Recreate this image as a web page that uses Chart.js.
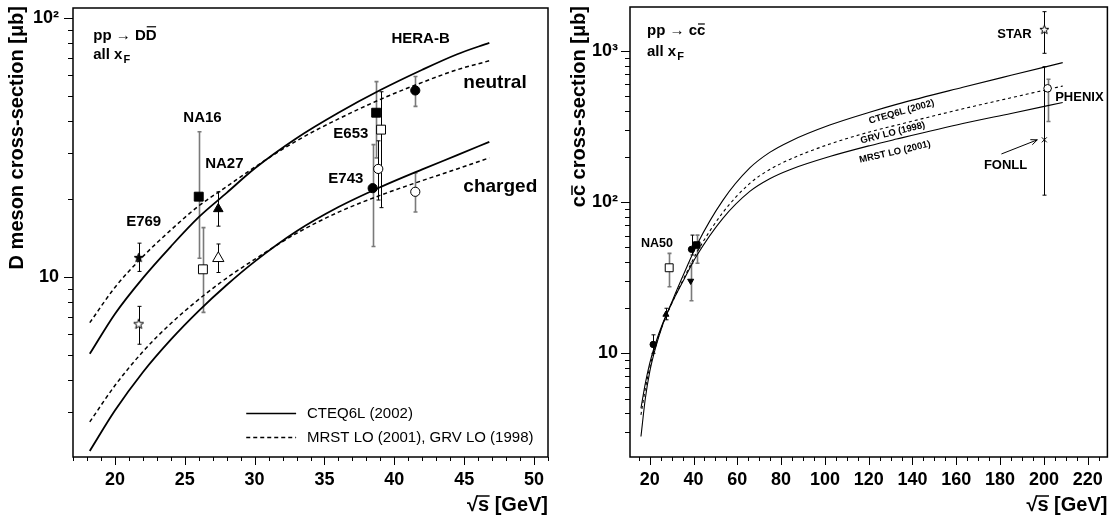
<!DOCTYPE html>
<html>
<head>
<meta charset="utf-8">
<script src="https://cdn.jsdelivr.net/npm/chart.js@4.4.1/dist/chart.umd.min.js"></script>
<style>
  html, body { margin: 0; padding: 0; background: #fff; }
  #wrap { position: relative; width: 1114px; height: 516px; }
  canvas { position: absolute; top: 0; }
  #left { left: 0; }
  #right { left: 557px; }
</style>
</head>
<body>
<div id="wrap">
  <canvas id="left" width="557" height="516"></canvas>
  <canvas id="right" width="557" height="516"></canvas>
</div>
<script>
// ---------- left panel: pp -> D Dbar, all xF ----------
const ddTickX = [20, 25, 30, 35, 40, 45, 50];
const ddTickY = [10, 100];

// theory curves
const ddCurveX       = [18.2, 20, 22, 24, 26, 28, 30, 33, 36, 39, 42, 44.5, 46.8];
const ddNeutralCteq  = [5.05, 7.2, 9.9, 13.1, 17.0, 21.1, 26.2, 34.3, 43.0, 52.6, 63.0, 72.3, 80.0];
const ddNeutralMrst  = [6.66, 9.11, 11.98, 15.16, 18.8, 22.3, 26.5, 33.5, 40.7, 48.4, 56.3, 63.0, 68.2];
const ddChargedCteq  = [2.13, 3.05, 4.29, 5.73, 7.40, 9.31, 11.46, 15.0, 18.6, 22.2, 26.0, 29.5, 33.2];
const ddChargedMrst  = [2.76, 3.81, 5.15, 6.61, 8.19, 9.90, 11.69, 14.73, 17.78, 20.65, 23.53, 26.1, 28.8];

// measurements: E769 (D0, D+), NA16, NA27, E653, E743, HERA-B
const ddSqrtS  = [21.7, 21.7, 26.0, 26.3, 27.4, 27.4, 38.7, 39.05, 38.45, 38.85, 41.5, 41.5];
const ddSigma  = [11.9, 6.6, 20.4, 10.7, 18.3, 11.8, 43.0, 37.0, 22.0, 26.1, 52.4, 21.3];
const ddErrLow = [10.5, 5.5, 11.8, 7.3, 15.7, 10.4, 28.8, 18.5, 13.1, 19.8, 45.5, 17.8];
const ddErrHigh= [13.5, 7.7, 36.3, 15.5, 21.3, 13.4, 56.7, 51.8, 32.4, 33.5, 59.3, 25.2];

// ---------- right panel: pp -> c cbar ----------
const ccTickX = [20, 40, 60, 80, 100, 120, 140, 160, 180, 200, 220];
const ccTickY = [10, 100, 1000];

const ccCurveX = [16, 18, 20, 22.4, 26, 30.5, 36, 41.5, 53.4, 65.7, 74.8, 84, 102.2, 120.4, 132.7, 163, 185, 208.6];
const ccCteq   = [2.8, 5.0, 7.5, 10.5, 15.5, 22.5, 34.5, 52, 102.6, 168, 213, 252, 323, 393, 443, 575, 690, 837];
const ccGrv    = [3.9, 5.8, 8.0, 10.8, 15.5, 22.0, 32.1, 46.3, 85.2, 132.7, 164, 191.5, 242, 291, 323, 414, 490, 586];
const ccMrst   = [4.31, 6.3, 8.55, 11.3, 15.8, 22.05, 31.4, 44.2, 78, 117.6, 142.7, 163.8, 200, 236, 261, 331, 386, 456];

// measurements: fixed target points, NA50, STAR, PHENIX, FONLL
const ccSqrtS  = [21.6, 27.4, 28.9, 38.7, 39.1, 41.5, 200.2, 201.7, 200.2];
const ccSigma  = [11.4, 18.0, 36.7, 30.0, 48.6, 51.9, 1392, 566, 258];
const ccErrLow = [9.96, 16.6, 27.5, 22.2, 44.6, 39.3, 965, 341, 111];
const ccErrHigh= [13.2, 19.8, 45.7, 39.3, 60.4, 60.4, 1821, 650, 787];

const FONT = '"Liberation Sans", Arial, Helvetica, sans-serif';
const GRAY = '#7a7a7a';

function starImg(size, filled) {
  const c = document.createElement('canvas');
  c.width = c.height = size;
  const g = c.getContext('2d');
  const R = size / 2 - 0.8, r = R * 0.42, cx = size / 2, cy = size / 2 + 0.5;
  g.beginPath();
  for (let k = 0; k < 10; k++) {
    const a = -Math.PI / 2 + k * Math.PI / 5;
    const rr = k % 2 ? r : R;
    g.lineTo(cx + rr * Math.cos(a), cy + rr * Math.sin(a));
  }
  g.closePath();
  g.fillStyle = filled ? '#000' : '#fff';
  g.fill();
  g.strokeStyle = '#000';
  g.lineWidth = 1;
  g.stroke();
  return c;
}

const pts = (xs, ys) => xs.map((x, i) => ({ x: x, y: ys[i] }));

function curve(xs, ys, width, dash) {
  return {
    data: pts(xs, ys), showLine: true, pointRadius: 0, borderColor: '#000',
    borderWidth: width, borderDash: dash || [], cubicInterpolationMode: 'monotone', fill: false
  };
}

function drawLabel(ctx, t, xs, ys) {
  const px = xs.getPixelForValue(t.x), py = ys.getPixelForValue(t.y);
  ctx.save();
  ctx.translate(px, py);
  if (t.rot) ctx.rotate(t.rot * Math.PI / 180);
  ctx.font = (t.normal ? '' : 'bold ') + t.size + 'px ' + FONT;
  ctx.fillStyle = '#000';
  ctx.textAlign = t.align || 'center';
  ctx.textBaseline = t.base || 'middle';
  ctx.fillText(t.text, 0, 0);
  const w = ctx.measureText(t.text).width;
  let x0 = t.align === 'left' ? 0 : (t.align === 'right' ? -w : -w / 2);
  if (t.over) {
    const lw = ctx.measureText(t.text.slice(-1)).width;
    const capTop = t.overTop || -t.size * 0.78;
    ctx.strokeStyle = '#000';
    ctx.lineWidth = 1.2;
    ctx.beginPath();
    ctx.moveTo(x0 + w - lw + 1, capTop);
    ctx.lineTo(x0 + w - 0.5, capTop);
    ctx.stroke();
  }
  if (t.sub) {
    ctx.font = 'bold ' + Math.round(t.size * 0.7) + 'px ' + FONT;
    ctx.textAlign = 'left';
    ctx.fillText(t.sub, x0 + w + 1, 4);
  }
  ctx.restore();
}

const decor = {
  id: 'decor',
  beforeDatasetsDraw(chart, args, o) {
    const ctx = chart.ctx, xs = chart.scales.x, ys = chart.scales.y;
    chart.data.datasets.forEach(ds => {
      if (!ds.errLow) return;
      ds.data.forEach((p, i) => {
        const px = Math.round(xs.getPixelForValue(p.x)) + 0.5;
        const y1 = ys.getPixelForValue(ds.errLow[i]);
        const y2 = ys.getPixelForValue(ds.errHigh[i]);
        ctx.save();
        ctx.strokeStyle = ds.errColor[i];
        ctx.lineWidth = ds.errColor[i] === GRAY ? 1.6 : 1;
        ctx.beginPath();
        ctx.moveTo(px, y1); ctx.lineTo(px, y2);
        ctx.moveTo(px - 2, y1); ctx.lineTo(px + 2, y1);
        ctx.moveTo(px - 2, y2); ctx.lineTo(px + 2, y2);
        ctx.stroke();
        ctx.restore();
      });
    });
  },
  afterDraw(chart, args, o) {
    const ctx = chart.ctx, xs = chart.scales.x, ys = chart.scales.y, a = chart.chartArea;
    ctx.save();
    // frame
    ctx.strokeStyle = '#000';
    ctx.lineWidth = 1.5;
    ctx.strokeRect(a.left, a.top, a.right - a.left, a.bottom - a.top);
    // ticks
    ctx.lineWidth = 1;
    ctx.beginPath();
    for (let v = o.xMinorFrom; v <= xs.max; v += o.xMinorStep) {
      const p = Math.round(xs.getPixelForValue(v)) + 0.5;
      const major = o.tickX.includes(v);
      ctx.moveTo(p, a.bottom); ctx.lineTo(p, a.bottom + (major ? 8 : 4));
    }
    for (let dec = 1; dec <= 1000; dec *= 10) {
      for (let m = 1; m <= 9; m++) {
        const v = m * dec;
        if (v < ys.min || v > ys.max) continue;
        const p = Math.round(ys.getPixelForValue(v)) + 0.5;
        ctx.moveTo(a.left, p); ctx.lineTo(a.left - (m === 1 ? 9 : 5), p);
      }
    }
    ctx.stroke();

    // axis titles
    ctx.fillStyle = '#000';
    ctx.font = 'bold 20px ' + FONT;
    ctx.textAlign = 'right';
    ctx.textBaseline = 'alphabetic';
    const xt = '√s [GeV]';
    ctx.fillText(xt, a.right, 511);
    const wAll = ctx.measureText(xt).width, wRad = ctx.measureText('√').width, wS = ctx.measureText('√s').width;
    ctx.lineWidth = 1.5;
    ctx.beginPath();
    ctx.moveTo(a.right - wAll + wRad - 1, 496);
    ctx.lineTo(a.right - wAll + wS + 0.5, 496);
    ctx.stroke();

    ctx.save();
    ctx.translate(o.yTitleX, 6);
    ctx.rotate(-Math.PI / 2);
    ctx.textAlign = 'right';
    ctx.fillText(o.yTitle, 0, 0);
    if (o.yTitleOver) {
      const W = ctx.measureText(o.yTitle).width, wc = ctx.measureText('c').width;
      ctx.lineWidth = 1.5;
      ctx.beginPath();
      ctx.moveTo(-W + wc + 1, -13);
      ctx.lineTo(-W + 2 * wc - 0.5, -13);
      ctx.stroke();
    }
    ctx.restore();

    // annotations
    o.labels.forEach(t => drawLabel(ctx, t, xs, ys));

    // legend lines
    (o.legend || []).forEach(l => {
      const y = Math.round(ys.getPixelForValue(l.y)) + 0.5;
      ctx.lineWidth = 1.5;
      ctx.setLineDash(l.dash);
      ctx.beginPath();
      ctx.moveTo(xs.getPixelForValue(l.x0), y);
      ctx.lineTo(xs.getPixelForValue(l.x1), y);
      ctx.stroke();
      ctx.setLineDash([]);
      ctx.font = '15px ' + FONT;
      ctx.textAlign = 'left';
      ctx.textBaseline = 'middle';
      ctx.fillText(l.text, xs.getPixelForValue(l.tx), y);
    });

    // arrow
    if (o.arrow) {
      const x0 = xs.getPixelForValue(o.arrow.x0), y0 = ys.getPixelForValue(o.arrow.y0);
      const x1 = xs.getPixelForValue(o.arrow.x1), y1 = ys.getPixelForValue(o.arrow.y1);
      const ang = Math.atan2(y1 - y0, x1 - x0);
      ctx.lineWidth = 1;
      ctx.beginPath();
      ctx.moveTo(x0, y0); ctx.lineTo(x1, y1);
      ctx.moveTo(x1 - 7 * Math.cos(ang - 0.4), y1 - 7 * Math.sin(ang - 0.4));
      ctx.lineTo(x1, y1);
      ctx.lineTo(x1 - 7 * Math.cos(ang + 0.4), y1 - 7 * Math.sin(ang + 0.4));
      ctx.stroke();
    }
    ctx.restore();
  }
};

// no automatic label padding: the plot frame is placed by layout.padding and afterFit
function noPad(s) { s.paddingTop = 0; s.paddingBottom = 0; s.paddingLeft = 0; s.paddingRight = 0; }

function axes(xmin, xmax, ymin, ymax, tickX, tickY, yPad) {
  const sup = { 10: '10', 100: '10²', 1000: '10³' };
  return {
    x: {
      type: 'linear', min: xmin, max: xmax,
      afterBuildTicks: s => { s.ticks = tickX.map(v => ({ value: v })); },
      afterFit: s => { s.height = 59; noPad(s); },
      grid: { display: false, drawTicks: false },
      border: { display: false },
      ticks: { color: '#000', font: { family: FONT, size: 18, weight: 'bold' }, padding: 12,
               maxRotation: 0, autoSkip: false, callback: v => String(v) }
    },
    y: {
      type: 'logarithmic', min: ymin, max: ymax,
      afterBuildTicks: s => { s.ticks = tickY.map(v => ({ value: v })); },
      afterFit: s => { s.width = 73; noPad(s); },
      grid: { display: false, drawTicks: false },
      border: { display: false },
      ticks: { color: '#000', font: { family: FONT, size: 18, weight: 'bold' }, padding: yPad,
               autoSkip: false, callback: v => sup[v] || '' }
    }
  };
}

// ---------- left chart ----------
const openStarL = starImg(12, false), fullStarL = starImg(11, true);
new Chart(document.getElementById('left'), {
  type: 'scatter',
  data: {
    datasets: [
      {
        data: pts(ddSqrtS, ddSigma),
        errLow: ddErrLow, errHigh: ddErrHigh,
        errColor: ['#000', '#000', GRAY, GRAY, '#000', '#000', GRAY, '#000', GRAY, '#000', GRAY, GRAY],
        pointStyle: [fullStarL, openStarL, 'rect', 'rect', 'triangle', 'triangle', 'rect', 'rect', 'circle', 'circle', 'circle', 'circle'],
        pointRadius: [5, 5, 6.3, 6.3, 5.5, 6.5, 6.3, 6.3, 4.6, 4.6, 4.6, 4.6],
        pointBackgroundColor: ['#000', '#fff', '#000', '#fff', '#000', '#fff', '#000', '#fff', '#000', '#fff', '#000', '#fff'],
        pointBorderColor: '#000', pointBorderWidth: 1, showLine: false
      },
      curve(ddCurveX, ddNeutralCteq, 1.8),
      curve(ddCurveX, ddNeutralMrst, 1.5, [4, 3]),
      curve(ddCurveX, ddChargedCteq, 1.8),
      curve(ddCurveX, ddChargedMrst, 1.5, [4, 3])
    ]
  },
  options: {
    responsive: false, animation: false, devicePixelRatio: 1, events: [],
    layout: { padding: { left: 0, top: 8, right: 9, bottom: 0 } },
    scales: axes(17, 51, 2.02, 109, ddTickX, ddTickY, 14),
    plugins: {
      legend: { display: false }, tooltip: { enabled: false },
      decor: {
        tickX: ddTickX, xMinorFrom: 17, xMinorStep: 1,
        yTitle: 'D meson cross-section [μb]', yTitleX: 23,
        labels: [
          { text: 'pp → DD', over: 1, x: 18.45, y: 82.2, size: 15, align: 'left', base: 'alphabetic', overTop: -13 },
          { text: 'all x', sub: 'F', x: 18.45, y: 69.5, size: 15, align: 'left', base: 'alphabetic' },
          { text: 'NA16', x: 26.27, y: 41.1, size: 15 },
          { text: 'NA27', x: 27.83, y: 27.3, size: 15 },
          { text: 'E769', x: 22.06, y: 16.3, size: 15 },
          { text: 'HERA-B', x: 41.88, y: 83.0, size: 15 },
          { text: 'E653', x: 36.89, y: 35.7, size: 15 },
          { text: 'E743', x: 36.53, y: 23.9, size: 15 },
          { text: 'neutral', x: 44.94, y: 56.1, size: 19, align: 'left' },
          { text: 'charged', x: 44.94, y: 22.2, size: 19, align: 'left' }
        ],
        legend: [
          { x0: 29.4, x1: 32.97, tx: 33.75, y: 2.99, dash: [], text: 'CTEQ6L (2002)' },
          { x0: 29.4, x1: 32.97, tx: 33.75, y: 2.41, dash: [4, 3], text: 'MRST LO (2001), GRV LO (1998)' }
        ]
      }
    }
  },
  plugins: [decor]
});

// ---------- right chart ----------
const openStarR = starImg(11, false);
new Chart(document.getElementById('right'), {
  type: 'scatter',
  data: {
    datasets: [
      {
        data: pts(ccSqrtS, ccSigma),
        errLow: ccErrLow, errHigh: ccErrHigh,
        errColor: ['#000', '#000', GRAY, GRAY, '#000', GRAY, '#000', GRAY, '#000'],
        pointStyle: ['circle', 'triangle', 'rect', 'triangle', 'circle', 'rect', openStarR, 'circle', 'crossRot'],
        pointRotation: [0, 0, 0, 180, 0, 0, 0, 0, 0],
        pointRadius: [3.2, 3.5, 5.6, 3.5, 3.2, 4.6, 5, 3.8, 3.5],
        pointBackgroundColor: ['#000', '#000', '#fff', '#000', '#000', '#000', '#fff', '#fff', '#000'],
        pointBorderColor: '#000', pointBorderWidth: 1, showLine: false
      },
      curve(ccCurveX, ccCteq, 1.1),
      curve(ccCurveX, ccGrv, 1.1, [3, 3]),
      curve(ccCurveX, ccMrst, 1.1)
    ]
  },
  options: {
    responsive: false, animation: false, devicePixelRatio: 1, events: [],
    layout: { padding: { left: 0, top: 7, right: 6, bottom: 0 } },
    scales: axes(11, 229, 2.05, 1955, ccTickX, ccTickY, 12),
    plugins: {
      legend: { display: false }, tooltip: { enabled: false },
      decor: {
        tickX: ccTickX, xMinorFrom: 15, xMinorStep: 5,
        yTitle: 'cc cross-section [μb]', yTitleX: 28, yTitleOver: true,
        labels: [
          { text: 'pp → cc', over: 1, x: 18.75, y: 1276, size: 15, align: 'left', base: 'alphabetic', overTop: -11 },
          { text: 'all x', sub: 'F', x: 18.75, y: 926, size: 15, align: 'left', base: 'alphabetic' },
          { text: 'NA50', x: 23.3, y: 52.7, size: 12.5 },
          { text: 'STAR', x: 186.6, y: 1296, size: 13 },
          { text: 'PHENIX', x: 216.2, y: 495, size: 13 },
          { text: 'FONLL', x: 182.5, y: 176, size: 13 },
          { text: 'CTEQ6L (2002)', x: 135, y: 395, size: 9.5, rot: -16 },
          { text: 'GRV LO (1998)', x: 131, y: 287, size: 9.5, rot: -14 },
          { text: 'MRST LO (2001)', x: 132, y: 214, size: 9.5, rot: -13 }
        ],
        arrow: { x0: 180.6, y0: 208, x1: 197.0, y1: 258 }
      }
    }
  },
  plugins: [decor]
});
</script>
</body>
</html>
